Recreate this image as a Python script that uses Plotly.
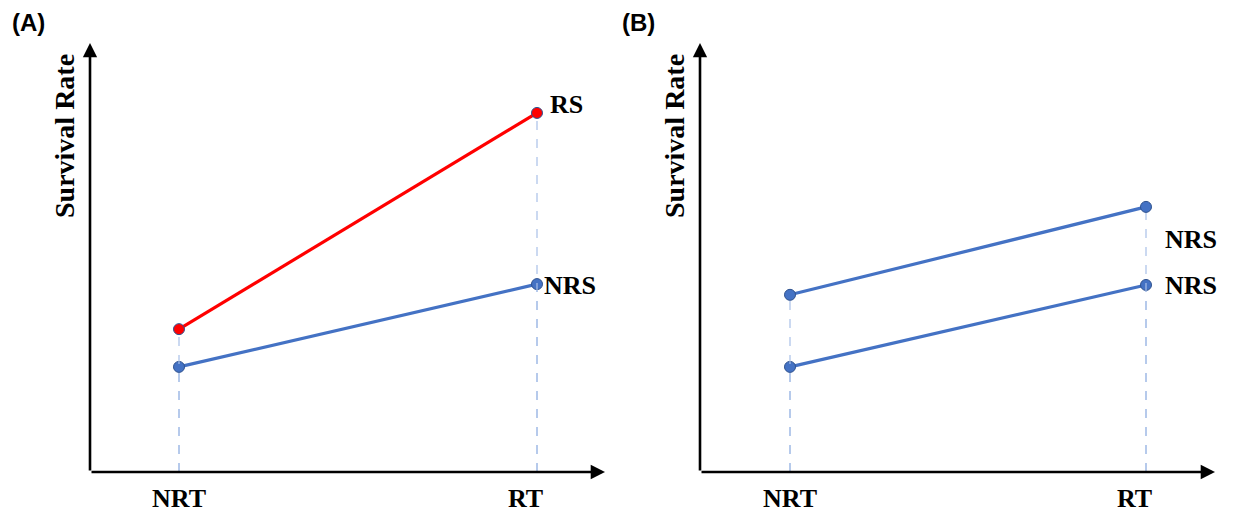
import plotly.graph_objects as go

# ---------------- data ----------------
categories = ["NRT", "RT"]
panel_titles = ["(A)", "(B)"]
y_title = "Survival Rate"

# Panel A
a_rs = [33.3, 83.7]      # responsive (red)
a_nrs = [24.5, 43.8]     # non-responsive (blue)
a_labels = ["RS", "NRS"]

# Panel B
b_upper = [41.3, 61.8]
b_lower = [24.5, 43.6]
b_labels = ["NRS", "NRS"]

RED = "#ff0000"
BLUE = "#4472c4"
EDGE = "#2f528f"
DASH = "#a9c0e8"
SERIF = "Liberation Serif"

W, H = 1235, 512
xpos = list(range(len(categories)))

fig = go.Figure()

# axis geometry (pixels)
panels = [
    dict(xa="x", ya="y", x0=90, x1=605, px_nrt=179, px_rt=537),
    dict(xa="x2", ya="y2", x0=700, x1=1215, px_nrt=790, px_rt=1146),
]
y_bot, y_top = 472, 43
YMAX = 100

def xrange_for(p):
    unit = p["px_rt"] - p["px_nrt"]
    return [-(p["px_nrt"] - p["x0"]) / unit, 1 + (p["x1"] - p["px_rt"]) / unit]

def add_series(xa, ya, vals, color):
    # dashed droplines
    for xi, v in zip(xpos, vals):
        fig.add_trace(go.Scatter(x=[xi, xi], y=[0, v], mode="lines", xaxis=xa, yaxis=ya,
                                 line=dict(color=DASH, width=1.2, dash="dash"),
                                 showlegend=False, hoverinfo="skip"))
    fig.add_trace(go.Scatter(x=xpos, y=vals, mode="lines+markers", xaxis=xa, yaxis=ya,
                             line=dict(color=color, width=3.2),
                             marker=dict(size=11, color=color, line=dict(color=EDGE, width=1)),
                             showlegend=False))

# panel A
add_series("x", "y", a_nrs, BLUE)
add_series("x", "y", a_rs, RED)
# panel B
add_series("x2", "y2", b_lower, BLUE)
add_series("x2", "y2", b_upper, BLUE)

annotations = []
label_font = dict(family=SERIF, size=26, color="black", weight="bold")

for i, p in enumerate(panels):
    xr = xrange_for(p)
    # x-axis arrow
    annotations.append(dict(x=xr[1], y=0, ax=xr[0], ay=0, xref=p["xa"], yref=p["ya"],
                            axref=p["xa"], ayref=p["ya"], text="", showarrow=True,
                            arrowhead=2, arrowsize=1.1, arrowwidth=2.6, arrowcolor="black",
                            standoff=0, startstandoff=0))
    # y-axis arrow
    annotations.append(dict(x=xr[0], y=YMAX, ax=xr[0], ay=0, xref=p["xa"], yref=p["ya"],
                            axref=p["xa"], ayref=p["ya"], text="", showarrow=True,
                            arrowhead=2, arrowsize=1.1, arrowwidth=2.6, arrowcolor="black",
                            standoff=0, startstandoff=0))
    # category labels
    for xi, cat in zip(xpos, categories):
        annotations.append(dict(x=xi, y=0, xref=p["xa"], yref=p["ya"], text=cat,
                                showarrow=False, yanchor="top", yshift=-10,
                                xshift=(0 if xi == 0 else -12), font=label_font))
    # y title
    annotations.append(dict(x=(p["x0"] - 26) / W, y=(H - 136) / H, xref="paper", yref="paper",
                            xanchor="center", yanchor="middle",
                            text=y_title, textangle=-90, showarrow=False,
                            font=dict(family=SERIF, size=28, color="black", weight="bold")))
    # panel title
    annotations.append(dict(x=(p["x0"] - 62) / W, y=(H - 22) / H, xref="paper", yref="paper",
                            xanchor="center", yanchor="middle",
                            text=panel_titles[i], showarrow=False,
                            font=dict(family="Liberation Sans", size=24, color="black", weight="bold")))

# series labels at RT
annotations.append(dict(x=xpos[1], y=a_rs[1], xref="x", yref="y", text=a_labels[0],
                        showarrow=False, xanchor="left", xshift=11, yshift=8, font=label_font))
annotations.append(dict(x=xpos[1], y=a_nrs[1], xref="x", yref="y", text=a_labels[1],
                        showarrow=False, xanchor="left", xshift=5, yshift=-1, font=label_font))
annotations.append(dict(x=xpos[1], y=b_upper[1], xref="x2", yref="y2", text=b_labels[0],
                        showarrow=False, xanchor="left", xshift=17, yshift=-33, font=label_font))
annotations.append(dict(x=xpos[1], y=b_lower[1], xref="x2", yref="y2", text=b_labels[1],
                        showarrow=False, xanchor="left", xshift=17, yshift=-1, font=label_font))

axis_common = dict(showgrid=False, zeroline=False, showline=False, showticklabels=False, ticks="")
ydom = [(H - y_bot) / H, (H - y_top) / H]
fig.update_layout(
    width=W, height=H, margin=dict(l=0, r=0, t=0, b=0),
    paper_bgcolor="white", plot_bgcolor="white",
    xaxis=dict(domain=[panels[0]["x0"] / W, panels[0]["x1"] / W], range=xrange_for(panels[0]), **axis_common),
    yaxis=dict(domain=ydom, range=[0, YMAX], **axis_common),
    xaxis2=dict(domain=[panels[1]["x0"] / W, panels[1]["x1"] / W], range=xrange_for(panels[1]),
                anchor="y2", **axis_common),
    yaxis2=dict(domain=ydom, range=[0, YMAX], anchor="x2", **axis_common),
    annotations=annotations,
)

fig.write_html("out.html", config={"displayModeBar": False},
               post_script="document.body.style.margin='0';document.body.style.overflow='hidden';")
